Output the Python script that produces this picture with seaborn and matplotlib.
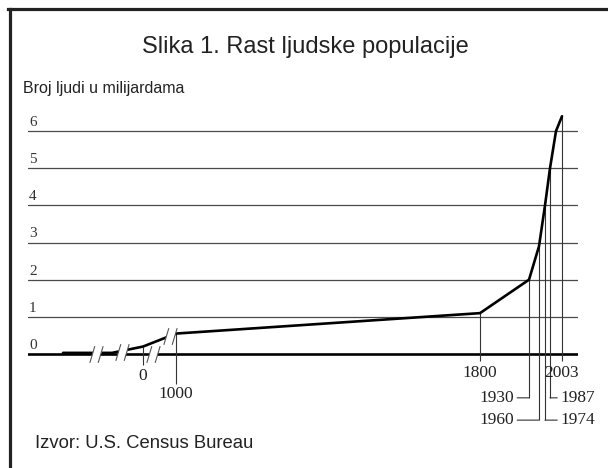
import matplotlib
matplotlib.use("Agg")
import matplotlib.pyplot as plt
import numpy as np
import seaborn as sns
from matplotlib.lines import Line2D
from matplotlib.path import Path

# population (billions) by year
years = [-10000, -4000, 0, 1000, 1800, 1930, 1960, 1974, 1987, 1995, 2003]
pop = [0.03, 0.03, 0.2, 0.55, 1.1, 2.0, 2.9, 4.0, 5.0, 6.0, 6.4]

label_years = [0, 1000, 1800, 1930, 1960, 1974, 1987, 2003]
grid_levels = [0, 1, 2, 3, 4, 5, 6]

title = "Slika 1. Rast ljudske populacije"
ylabel = "Broj ljudi u milijardama"
source = "Izvor: U.S. Census Bureau"

# the drawing uses a broken, non-linear time axis -> piecewise linear scale
scale_years = [-14000, -10000, -4000, 0, 1000, 1800, 1930, 1960, 1974, 1987, 2003, 2040]
scale_pos = [0, 35, 84, 115, 148, 452, 501, 511, 517, 522, 534, 550]


def fwd(x):
    return np.interp(x, scale_years, scale_pos)


def inv(p):
    return np.interp(p, scale_pos, scale_years)


sns.set_style("white")
plt.rcParams['font.family'] = ['Liberation Sans', 'DejaVu Sans']

W, H = 608, 468
fig = plt.figure(figsize=(W / 100, H / 100), dpi=100)

ylo, yhi = -2.3, 6.6
unit = 37.15
ax_bottom = 354 + (-ylo) * unit
ax_top = 354 - yhi * unit
ax = fig.add_axes([28 / W, 1 - ax_bottom / H, 550 / W, (ax_bottom - ax_top) / H])
ax.set_xscale('function', functions=(fwd, inv))
ax.set_xlim(scale_years[0], scale_years[-1])
ax.set_ylim(ylo, yhi)
ax.axis('off')

# grid lines and their labels
for g in grid_levels:
    if g == 0:
        ax.axhline(0, color='black', lw=1.9, zorder=2)
    else:
        ax.axhline(g, color='#4a4a4a', lw=0.9, zorder=1)
    ax.annotate(str(g), xy=(0.002, g), xycoords=('axes fraction', 'data'),
                xytext=(0, 1.5), textcoords='offset points', ha='left', va='bottom',
                fontsize=11, color='#333333', family='Liberation Serif')

# population curve
sns.lineplot(x=years, y=pop, ax=ax, color='black', lw=1.9, zorder=4)

# drop lines and year labels
label_style = {
    0: ('below', -0.3, -0.59),
    1000: ('below', -0.8, -1.08),
    1800: ('below', -0.2, -0.51),
    2003: ('below', -0.2, -0.51),
    1930: ('left', -1.18, None),
    1987: ('right', -1.18, None),
    1960: ('left', -1.78, None),
    1974: ('right', -1.78, None),
}
for yr in label_years:
    kind, bottom, ty = label_style[yr]
    top = np.interp(yr, years, pop)
    ax.vlines(yr, bottom, top, color='#333333', lw=0.8, zorder=3)
    if kind == 'below':
        ax.text(yr, ty, str(yr), ha='center', va='center', fontsize=12.5,
                family='Liberation Serif', color='#222222')
    else:
        tx = 1890 if kind == 'left' else 2001
        ax.annotate(str(yr), xy=(yr, bottom), xytext=(tx, bottom),
                    ha='right' if kind == 'left' else 'left', va='center',
                    fontsize=12.5, family='Liberation Serif', color='#222222',
                    arrowprops=dict(arrowstyle='-', lw=0.8, color='#333333',
                                    shrinkA=0, shrinkB=0))

# axis break marks (//)
gap = Path([(-1.6, -2), (0.4, -2), (1.6, 2), (-0.4, 2), (-1.6, -2)])
slashes = Path([(-1.6, -2), (-0.4, 2), (0.4, -2), (1.6, 2)],
               [Path.MOVETO, Path.LINETO, Path.MOVETO, Path.LINETO])
break_x = [-6000, -2700, 300, 820]
break_y = [0.01, 0.06, 0.0, float(np.interp(820, years, pop))]
ax.plot(break_x, break_y, ls='none', marker=gap, ms=12, mfc='white', mew=0, zorder=5)
ax.plot(break_x, break_y, ls='none', marker=slashes, ms=12, mfc='none',
        mec='#555555', mew=0.8, zorder=6)

# texts
fig.text(305 / W, 1 - 47 / H, title, ha='center', va='center', fontsize=17, color='#222222')
fig.text(23 / W, 1 - 88 / H, ylabel, ha='left', va='center', fontsize=11.5, color='#222222')
fig.text(35 / W, 1 - 443 / H, source, ha='left', va='center', fontsize=13.3, color='#222222')

# frame
fig.add_artist(Line2D([8 / W, 1], [1 - 8.5 / H, 1 - 8.5 / H], lw=2.3, color='#222222',
                      solid_capstyle='projecting'))
fig.add_artist(Line2D([9.5 / W, 9.5 / W], [0, 1 - 8.5 / H], lw=2.3, color='#222222',
                      solid_capstyle='projecting'))

fig.savefig('out.png', dpi=100)
